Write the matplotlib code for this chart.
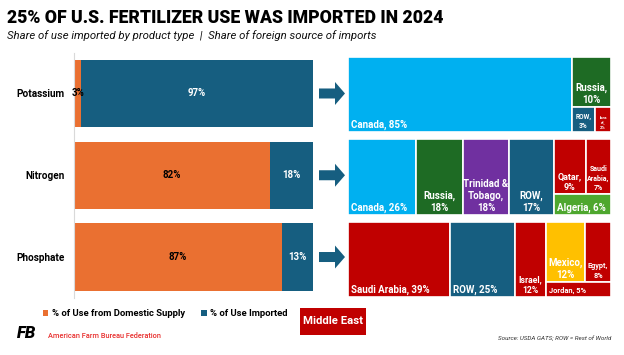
import matplotlib
matplotlib.use('Agg')
import matplotlib.pyplot as plt
from matplotlib.patches import Rectangle, FancyArrow

plt.rcParams['font.family'] = ['Roboto', 'DejaVu Sans']

W, H = 624, 355

# left chart: share of use by supply
products = ['Potassium', 'Nitrogen', 'Phosphate']
domestic = [3, 82, 87]
imported = [97, 18, 13]

# right side: import sources, grouped columns -> rows -> (country, share)
potassium_sources = [
    [[('Canada', 85)]],
    [[('Russia', 10)], [('ROW', 3), ('Isra\nel', 2)]],
]
nitrogen_sources = [
    [[('Canada', 26)]],
    [[('Russia', 18)]],
    [[('Trinidad &\nTobago', 18)]],
    [[('ROW', 17)]],
    [[('Qatar', 9), ('Saudi\nArabia', 7)], [('Algeria', 6)]],
]
phosphate_sources = [
    [[('Saudi Arabia', 39)]],
    [[('ROW', 25)]],
    [[('Israel', 12)]],
    [[('Mexico', 12), ('Egypt', 8)], [('Jordan', 5)]],
]
sources = [potassium_sources, nitrogen_sources, phosphate_sources]

ORANGE = '#EA7031'
BLUE = '#165E80'
RED = '#C00000'
country_colors = {
    'Canada': '#00B0F0', 'Russia': '#1E6B24', 'ROW': BLUE, 'Israel': RED,
    'Trinidad & Tobago': '#7030A0', 'Qatar': RED, 'Saudi Arabia': RED,
    'Algeria': '#4EA72E', 'Mexico': '#FFC000', 'Egypt': RED, 'Jordan': RED,
}


def fig_box(x0, y0, x1, y1):
    # pixel box (top-left origin) -> figure fraction rect
    return [x0 / W, 1 - y1 / H, (x1 - x0) / W, (y1 - y0) / H]


fig = plt.figure(figsize=(W / 100, H / 100), dpi=100)
fig.patch.set_facecolor('white')

# overlay for titles and decorations, pixel coordinates
ov = fig.add_axes([0, 0, 1, 1])
ov.set_xlim(0, W)
ov.set_ylim(H, 0)
ov.axis('off')

ov.text(7, 18, '25% OF U.S. FERTILIZER USE WAS IMPORTED IN 2024', fontsize=12.7,
        fontweight='black', va='center', ha='left', color='black')
ov.text(7, 36, 'Share of use imported by product type  |  Share of foreign source of imports',
        fontsize=8.2, style='italic', va='center', ha='left', color='#111111')

# bar chart
ax = fig.add_axes(fig_box(74, 52.6, 313, 297.9))
ypos = list(range(len(products)))
b1 = ax.barh(ypos, domestic, height=0.82, color=ORANGE, label='% of Use from Domestic Supply')
b2 = ax.barh(ypos, imported, left=domestic, height=0.82, color=BLUE, label='% of Use Imported')
ax.set_xlim(0, 100)
ax.set_ylim(len(products) - 0.5, -0.5)
ax.set_yticks(ypos)
ax.set_yticklabels(products, fontsize=7.2, fontweight='bold')
ax.tick_params(axis='y', length=0, pad=7)
ax.set_xticks([])
for s in ['top', 'right', 'bottom']:
    ax.spines[s].set_visible(False)
ax.spines['left'].set_color('#D9D9D9')
for i in ypos:
    ax.text(domestic[i] / 2, i, f'{domestic[i]}%', ha='center', va='center',
            fontsize=7, fontweight='bold', color='black')
    ax.text(domestic[i] + imported[i] / 2, i, f'{imported[i]}%', ha='center', va='center',
            fontsize=7, fontweight='bold', color='white')

# arrows next to each bar
for i in ypos:
    yc = H - ax.transData.transform((0, i))[1]
    ov.add_patch(FancyArrow(319, yc, 26, 0, width=10, head_width=23, head_length=10,
                            length_includes_head=True, color=BLUE, lw=0))

# treemaps
tm_boxes = [(348, 57, 611, 132), (348, 139, 611, 215), (348, 222, 611, 297)]
for tree, (x0, y0, x1, y1) in zip(sources, tm_boxes):
    tax = fig.add_axes(fig_box(x0, y0, x1, y1))
    tax.set_xlim(0, 1)
    tax.set_ylim(1, 0)
    tax.axis('off')
    wpx, hpx = x1 - x0, y1 - y0
    total = sum(v for col in tree for row in col for _, v in row)
    cx = 0
    for col in tree:
        csum = sum(v for row in col for _, v in row)
        cw = csum / total
        cy = 0
        for row in col:
            rsum = sum(v for _, v in row)
            rh = rsum / csum
            rx = cx
            for name, v in row:
                w = cw * v / rsum
                key = name.replace('\n', ' ').replace('Isra el', 'Israel')
                tax.add_patch(Rectangle((rx, cy), w, rh, facecolor=country_colors[key],
                                        edgecolor='white', lw=1.2))
                cwp, chp = w * wpx, rh * hpx
                fs = min(7, 0.2 * cwp, 0.36 * chp)
                if cwp > 55:
                    tax.text(rx + 3 / wpx, cy + rh - 2 / hpx, f'{name}, {v}%', ha='left',
                             va='bottom', fontsize=fs, fontweight='bold', color='white')
                else:
                    tax.text(rx + w / 2, cy + rh - 2 / hpx, f'{name},\n{v}%', ha='center',
                             va='bottom', fontsize=fs, fontweight='bold', color='white',
                             linespacing=1.25)
                rx += w
            cy += rh
        cx += cw

# legend
fig.legend(handles=[b1, b2], loc='center left', bbox_to_anchor=(38 / W, 1 - 314 / H),
           ncol=2, frameon=False, handlelength=0.6, handleheight=0.6, handletextpad=0.35,
           columnspacing=1.7, borderpad=0, prop={'size': 6.8, 'weight': 'bold'})

# middle east key
ov.add_patch(Rectangle((300, 308), 66, 27, facecolor=RED, edgecolor='none'))
ov.text(333, 321.5, 'Middle East', ha='center', va='center', fontsize=8.2,
        fontweight='bold', color='white')

# footer
ov.text(17, 334, 'FB', fontsize=12, fontweight='black', style='italic', color='black',
        va='center', ha='left')
ov.text(48, 336, 'American Farm Bureau Federation', fontsize=5.3, color='#E8302F',
        va='center', ha='left', fontweight='medium')
ov.text(611, 338, 'Source: USDA GATS; ROW = Rest of World', fontsize=4.5, style='italic',
        color='#333333', va='center', ha='right')

fig.savefig('out.png', dpi=100, facecolor='white')
